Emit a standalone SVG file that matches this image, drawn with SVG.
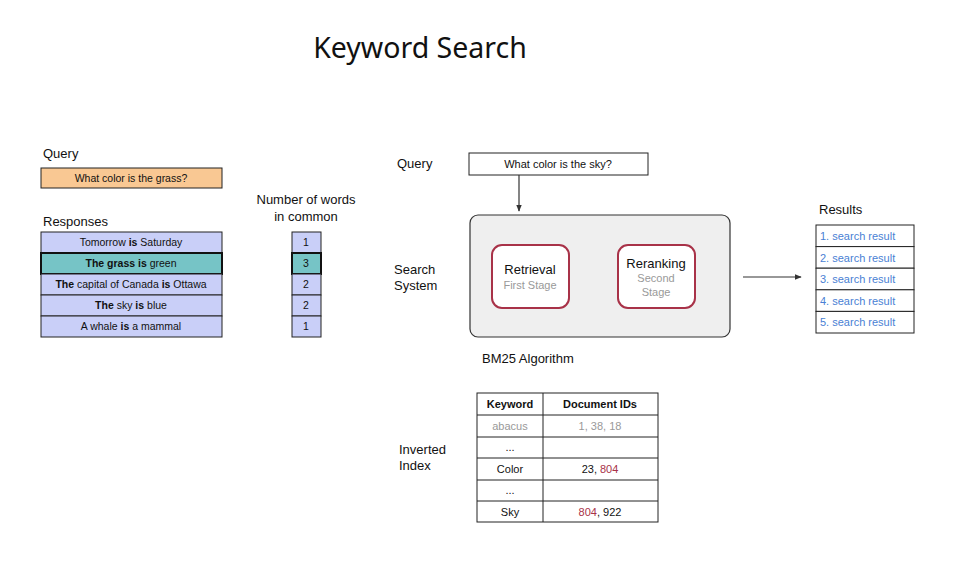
<svg xmlns="http://www.w3.org/2000/svg" width="959" height="575" viewBox="0 0 959 575">
<style>
text{font-family:"Liberation Sans",Arial,sans-serif;fill:#111}
.lbl{font-size:13px}
.cell{font-size:10.5px;text-anchor:middle}
.b{font-weight:bold}
.resp{fill:#c9cff8;stroke:#222;stroke-width:1}
.gray{fill:#999}
.res{font-size:11px;fill:#4a7fd4}
.red{fill:#a83248}
.stage{fill:#fff;stroke:#a83248;stroke-width:2}
.tbl{fill:#fff;stroke:#222;stroke-width:1}
.conn{stroke:#333;stroke-width:1.2;fill:none}
</style>
<defs>
<marker id="ah" viewBox="0 0 10 10" refX="9" refY="5" markerWidth="6" markerHeight="6" orient="auto"><path d="M0,1 L10,5 L0,9 z" fill="#333"/></marker>
</defs>
<rect width="959" height="575" fill="#fff"/>
<text x="420" y="58" text-anchor="middle" style="font-family:'Noto Sans',sans-serif;font-size:28.5px">Keyword Search</text>

<g id="left-query">
<text class="lbl" x="43" y="158">Query</text>
<rect x="41" y="168" width="181" height="20" fill="#f9c893" stroke="#222"/>
<text class="cell" x="131" y="182">What color is the grass?</text>
</g>

<g id="responses">
<text class="lbl" x="43" y="226">Responses</text>
<rect class="resp" x="41" y="232" width="181" height="21"/>
<text class="cell" x="131" y="246">Tomorrow <tspan class="b">is</tspan> Saturday</text>
<rect x="41" y="253" width="181" height="21" fill="#76c4c6" stroke="#111" stroke-width="2"/>
<text class="cell" x="131" y="267"><tspan class="b">The grass is</tspan> green</text>
<rect class="resp" x="41" y="274" width="181" height="21"/>
<text class="cell" x="131" y="288"><tspan class="b">The</tspan> capital of Canada <tspan class="b">is</tspan> Ottawa</text>
<rect class="resp" x="41" y="295" width="181" height="21"/>
<text class="cell" x="131" y="309"><tspan class="b">The</tspan> sky <tspan class="b">is</tspan> blue</text>
<rect class="resp" x="41" y="316" width="181" height="21"/>
<text class="cell" x="131" y="330">A whale <tspan class="b">is</tspan> a mammal</text>
</g>

<g id="counts">
<text class="lbl" x="306" y="204" text-anchor="middle">Number of words</text>
<text class="lbl" x="306" y="221" text-anchor="middle">in common</text>
<rect class="resp" x="292" y="232" width="29" height="21"/>
<text class="cell" x="306" y="246">1</text>
<rect x="292" y="253" width="29" height="21" fill="#76c4c6" stroke="#111" stroke-width="2"/>
<text class="cell" x="306" y="267">3</text>
<rect class="resp" x="292" y="274" width="29" height="21"/>
<text class="cell" x="306" y="288">2</text>
<rect class="resp" x="292" y="295" width="29" height="21"/>
<text class="cell" x="306" y="309">2</text>
<rect class="resp" x="292" y="316" width="29" height="21"/>
<text class="cell" x="306" y="330">1</text>
</g>

<g id="query">
<text class="lbl" x="397" y="168">Query</text>
<rect x="469" y="153" width="179" height="22" fill="#fff" stroke="#222"/>
<text class="cell" x="558" y="168" style="font-size:11px">What color is the sky?</text>
</g>

<g id="search-system">
<text class="lbl" x="394" y="274">Search</text>
<text class="lbl" x="394" y="290">System</text>
<rect x="470" y="215" width="260" height="122" rx="8" fill="#efefef" stroke="#333" stroke-width="1.2"/>
<text class="lbl" x="482" y="363">BM25 Algorithm</text>
</g>

<g id="retrieval">
<rect class="stage" x="492" y="245" width="77" height="63" rx="10"/>
<text class="lbl" x="530" y="274" text-anchor="middle">Retrieval</text>
<text x="530" y="289" text-anchor="middle" style="font-size:11px" class="gray">First Stage</text>
</g>

<g id="reranking">
<rect class="stage" x="618" y="245" width="77" height="63" rx="10"/>
<text class="lbl" x="656" y="268" text-anchor="middle">Reranking</text>
<text x="656" y="282" text-anchor="middle" style="font-size:11px" class="gray">Second</text>
<text x="656" y="296" text-anchor="middle" style="font-size:11px" class="gray">Stage</text>
</g>

<g id="results">
<text class="lbl" x="819" y="214">Results</text>
<rect class="tbl" x="816" y="225" width="98" height="21.6"/>
<rect class="tbl" x="816" y="246.6" width="98" height="21.6"/>
<rect class="tbl" x="816" y="268.2" width="98" height="21.6"/>
<rect class="tbl" x="816" y="289.8" width="98" height="21.6"/>
<rect class="tbl" x="816" y="311.4" width="98" height="21.6"/>
<text class="res" x="820" y="240">1. search result</text>
<text class="res" x="820" y="261.6">2. search result</text>
<text class="res" x="820" y="283.2">3. search result</text>
<text class="res" x="820" y="304.8">4. search result</text>
<text class="res" x="820" y="326.4">5. search result</text>
</g>

<g id="inverted-index">
<text class="lbl" x="399" y="454">Inverted</text>
<text class="lbl" x="399" y="470">Index</text>
<rect class="tbl" x="477" y="393" width="181" height="129"/>
<line x1="543" y1="393" x2="543" y2="522" stroke="#222"/>
<line x1="477" y1="415" x2="658" y2="415" stroke="#222"/>
<line x1="477" y1="437" x2="658" y2="437" stroke="#222"/>
<line x1="477" y1="458" x2="658" y2="458" stroke="#222"/>
<line x1="477" y1="480" x2="658" y2="480" stroke="#222"/>
<line x1="477" y1="501" x2="658" y2="501" stroke="#222"/>
<text class="cell b" x="510" y="408" style="font-size:11px">Keyword</text>
<text class="cell b" x="600" y="408" style="font-size:11px">Document IDs</text>
<text class="cell gray" x="510" y="430" style="font-size:11px">abacus</text>
<text class="cell gray" x="600" y="430" style="font-size:11px">1, 38, 18</text>
<text class="cell" x="510" y="451" style="font-size:11px">...</text>
<text class="cell" x="510" y="473" style="font-size:11px">Color</text>
<text class="cell" x="600" y="473" style="font-size:11px">23, <tspan class="red">804</tspan></text>
<text class="cell" x="510" y="494" style="font-size:11px">...</text>
<text class="cell" x="510" y="516" style="font-size:11px">Sky</text>
<text class="cell" x="600" y="516" style="font-size:11px"><tspan class="red">804</tspan>, 922</text>
</g>

<g id="connectors">
<line class="conn" x1="519" y1="175" x2="519" y2="211" marker-end="url(#ah)"/>
<line class="conn" x1="743" y1="277" x2="801" y2="277" marker-end="url(#ah)"/>
</g>
</svg>
